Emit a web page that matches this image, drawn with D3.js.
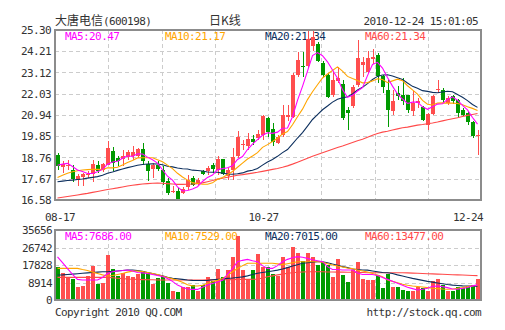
<!DOCTYPE html>
<html><head><meta charset="utf-8">
<script src="https://cdn.jsdelivr.net/npm/d3@7"></script>
<style>html,body{margin:0;padding:0;background:#fff;} svg{display:block;}</style>
</head><body><svg id="c" width="505" height="330"></svg>
<script>
// ---------- data ----------
const stockName = "大唐电信";
const stockCode = "(600198)";
const chartTitle = "日K线";
const timestamp = "2010-12-24 15:01:05";
const xLabels = ["08-17", "10-27", "12-24"];
const xLabelIndex = [0, 42, 84];
const priceTicks = ["25.30","24.21","23.12","22.03","20.94","19.85","18.76","17.67","16.58"];
const volumeTicks = ["35656","26742","17828","8914","0"];
const maLegend = ["MA5:20.47","MA10:21.17","MA20:21.34","MA60:21.34"];
const volLegend = ["MA5:7686.00","MA10:7529.00","MA20:7015.00","MA60:13477.00"];

const open = [18.89,18.25,18.30,18.12,17.62,17.74,17.86,17.93,18.38,18.14,
18.40,19.10,18.74,18.70,18.77,18.82,18.82,19.20,18.43,18.17,
18.39,18.14,17.54,16.97,17.06,16.94,17.23,17.71,17.40,18.05,
18.08,18.39,18.14,18.68,17.79,18.14,18.85,19.38,19.35,19.71,
19.74,19.91,20.77,20.20,19.52,19.91,20.85,20.85,22.99,23.47,
23.44,24.50,24.58,23.59,22.99,21.95,22.68,22.53,21.20,21.40,
22.48,23.48,23.17,23.80,24.02,22.92,22.24,21.16,22.07,21.98,
21.98,21.13,21.55,21.35,20.44,20.99,22.22,22.24,21.55,21.90,
21.73,21.21,21.04,20.56,19.84];
const high = [18.97,18.60,18.62,18.36,17.90,17.98,18.05,18.65,18.56,18.48,
19.60,19.32,18.82,19.16,19.16,19.33,19.25,19.50,18.56,18.48,
18.56,18.31,17.71,17.28,17.19,17.23,17.88,17.79,17.71,18.14,
18.31,18.48,18.82,18.70,18.22,19.25,20.14,19.66,20.00,19.91,
20.17,20.94,20.85,20.51,19.91,21.45,21.45,23.08,24.19,24.19,
25.25,25.30,24.70,23.70,23.08,23.15,23.42,22.73,21.37,22.48,
24.79,23.90,24.20,24.35,24.10,23.01,22.75,22.24,22.41,22.84,
21.99,22.15,21.81,21.39,21.04,21.98,22.72,22.32,21.90,21.98,
21.78,21.30,21.13,20.61,20.19];
const low = [18.10,17.95,18.10,17.48,17.30,17.28,17.72,17.50,17.98,18.00,
18.36,18.06,18.31,18.31,18.65,18.65,18.73,18.39,17.57,17.71,
18.05,17.37,16.85,16.94,16.55,16.89,17.11,17.28,17.37,17.88,
17.88,17.96,17.88,17.88,17.62,17.62,18.73,19.14,19.14,19.40,
19.66,19.66,19.83,19.35,19.45,19.83,20.62,20.77,22.91,22.91,
23.35,24.20,23.65,22.90,21.79,21.84,22.56,20.68,20.15,21.28,
22.39,22.90,23.09,23.55,22.60,22.07,20.32,20.96,21.73,21.47,
21.04,20.87,21.30,20.65,20.19,20.96,22.07,21.55,21.47,21.50,
20.82,20.87,20.44,19.76,18.90];
const close = [18.32,18.45,18.38,17.65,17.82,17.90,17.93,18.42,18.06,18.42,
19.25,18.50,18.60,18.85,19.04,19.04,19.20,18.56,18.05,18.36,
18.17,17.50,16.94,17.03,16.60,17.14,17.62,17.33,17.62,17.93,
18.22,18.19,18.70,17.91,18.14,18.77,19.79,19.43,19.71,19.54,
19.95,20.89,20.08,19.54,19.83,20.94,20.94,22.99,23.76,23.43,
24.85,24.93,23.71,22.99,21.88,22.75,22.82,20.77,21.03,22.39,
23.84,23.67,23.85,23.92,22.94,22.36,21.21,21.67,21.90,21.67,
21.21,21.56,21.67,20.70,20.99,21.90,22.26,21.73,21.81,21.67,
21.04,20.92,20.56,19.88,19.93];

const ma5 = [18.36,18.42,18.46,18.30,18.12,18.04,17.94,17.94,18.03,18.15,
18.42,18.53,18.57,18.72,18.85,18.81,18.95,18.94,18.78,18.64,
18.47,18.13,17.80,17.60,17.25,17.04,17.07,17.14,17.26,17.53,
17.74,17.86,18.13,18.19,18.23,18.34,18.66,18.81,19.17,19.45,
19.68,19.90,20.03,20.00,20.06,20.26,20.27,20.85,21.69,22.41,
23.19,23.99,24.14,23.98,23.67,23.25,22.83,22.24,21.85,21.95,
22.17,22.34,22.96,23.53,23.64,23.35,22.86,22.42,22.02,21.76,
21.53,21.60,21.60,21.36,21.23,21.36,21.50,21.52,21.74,21.87,
21.70,21.43,21.20,20.81,20.47];
const ma10 = [17.74,17.85,17.95,18.03,18.08,18.12,18.14,18.16,18.15,18.14,
18.23,18.23,18.26,18.38,18.50,18.61,18.74,18.75,18.75,18.75,
18.64,18.54,18.37,18.19,17.95,17.76,17.60,17.47,17.43,17.39,
17.39,17.46,17.64,17.73,17.88,18.04,18.26,18.47,18.68,18.84,
19.01,19.28,19.42,19.58,19.75,19.97,20.09,20.44,20.85,21.24,
21.73,22.13,22.49,22.84,23.04,23.22,23.41,23.19,22.92,22.81,
22.71,22.59,22.60,22.69,22.80,22.76,22.60,22.69,22.78,22.70,
22.44,22.23,22.01,21.69,21.49,21.45,21.55,21.56,21.55,21.55,
21.53,21.47,21.36,21.28,21.17];
const ma20 = [17.52,17.55,17.58,17.60,17.63,17.66,17.70,17.74,17.78,17.85,
17.95,18.02,18.10,18.17,18.24,18.30,18.36,18.40,18.43,18.44,
18.43,18.39,18.31,18.28,18.22,18.18,18.17,18.11,18.09,18.07,
18.02,18.00,18.00,17.96,17.91,17.90,17.93,17.97,18.06,18.11,
18.20,18.37,18.53,18.66,18.82,19.01,19.17,19.46,19.76,20.04,
20.37,20.71,20.96,21.21,21.40,21.60,21.75,21.82,21.88,22.02,
22.22,22.36,22.55,22.76,22.92,22.99,23.00,22.94,22.85,22.76,
22.58,22.41,22.31,22.19,22.15,22.10,22.08,22.12,22.16,22.13,
21.99,21.85,21.68,21.48,21.33];
const ma60 = [16.68,16.72,16.76,16.80,16.84,16.88,16.92,16.97,17.02,17.07,
17.12,17.16,17.20,17.25,17.30,17.34,17.37,17.40,17.42,17.44,
17.45,17.44,17.42,17.40,17.38,17.38,17.39,17.40,17.42,17.46,
17.52,17.58,17.65,17.70,17.75,17.80,17.85,17.88,17.92,17.96,
18.00,18.05,18.10,18.15,18.20,18.26,18.33,18.42,18.52,18.62,
18.72,18.82,18.91,19.00,19.09,19.18,19.27,19.35,19.44,19.53,
19.62,19.70,19.80,19.90,19.99,20.06,20.11,20.17,20.23,20.29,
20.32,20.37,20.42,20.45,20.49,20.53,20.58,20.64,20.70,20.75,
20.80,20.86,20.92,20.97,21.02];

const volume = [16980,13900,11550,10700,6450,7130,12230,17320,8150,8830,
22920,15790,12230,13900,12230,11550,13240,14770,13900,8150,
11040,12230,8490,4500,4200,6500,6800,7600,4800,7600,
11550,9850,15790,11550,15280,22070,32600,15280,10530,15280,
23430,16980,17000,13000,12000,22000,17000,27000,24000,20000,
24000,22000,18000,19500,17830,11550,20890,12735,9340,15280,
19500,10700,10190,10190,12735,6280,13000,6450,6790,5000,
4500,4750,6450,5940,4750,9670,10500,7400,4500,4800,
6540,5980,7100,7840,10840];
const vma5 = [22000,19000,16000,13000,10500,10200,10200,10200,10200,11500,
13500,14400,14800,15000,15300,14800,14000,13800,13500,13000,
12500,12000,11000,9500,7600,6500,5600,5400,5400,6500,
7600,8400,9200,10000,13000,16000,19500,20200,20700,20000,
19500,17500,16100,16100,17500,19500,20700,21500,22100,21800,
21200,20500,20000,19500,17000,15500,15500,15300,15300,15300,
13800,13000,13000,13000,12500,11500,10500,9500,8500,7500,
6500,5800,5100,5500,6000,7000,7100,6800,6300,5600,
5500,5900,6400,7200,7686];
const vma10 = [16100,16100,16100,16100,16100,15500,15000,14200,13500,12800,
12200,12500,13000,13500,14200,14700,14700,14500,14000,13500,
13000,12200,11500,10800,10000,9000,7800,7200,7100,7500,
8500,9300,10000,11000,12500,14400,16000,17500,18700,18700,
18700,18700,18700,18700,18400,18000,18500,19000,19500,19500,
19500,19500,19500,19300,18500,17800,17300,16800,16300,16000,
15300,14800,14300,13500,12700,11800,10200,9500,8800,8000,
7500,7100,6900,6600,6300,6000,5800,5600,5500,5600,
6000,6300,6800,7200,7529];
const vma20 = [12700,12800,13000,13200,13400,13600,13800,14000,14200,14400,
14400,14600,14800,15000,15300,15300,15000,14600,14000,13500,
12800,12300,11600,11000,10800,10500,10200,10000,9900,9900,
10000,10300,10500,10700,11000,11200,11500,11800,12300,13000,
13600,14000,14400,14800,15200,15800,16500,17300,18000,18700,
19000,19300,19500,19500,19000,18300,17700,17000,16500,15800,
15500,15300,15200,14800,14400,14000,13900,13500,12800,12200,
11600,11000,10500,10000,9500,9100,8700,8300,7900,7600,
7400,7200,7100,7050,7015];
const vma60 = [11500,11500,11500,11500,11500,11500,11500,11500,11500,11500,
11500,11300,11100,10900,10700,10600,10500,10400,10300,10300,
10200,10200,10200,10200,10200,10200,10200,10200,10200,10200,
10250,10250,10300,10300,10350,10400,10450,10500,10500,10550,
10600,11200,11800,12300,12800,13200,13600,13900,14100,14300,
14400,14400,14400,14400,14300,14300,14200,14200,14100,14100,
14000,14000,13900,13900,13900,13900,13900,13900,13900,13900,
13800,13700,13600,13500,13400,13300,13200,13100,13000,12900,
12800,12700,12600,12500,12400];

// ---------- style ----------
const RED = "#ff4e4e", GREEN = "#009a00";
const maColors = ["#ff00ff", "#ffa500", "#0c2f5e", "#ff4a4a"];
const TXT = "#333";
const FONT = "'DejaVu Sans Mono', 'Liberation Mono', monospace";

const svg = d3.select("#c");
const L = 55, R = 481, PT = 30, PB = 200, VT = 230, VB = 300;

const n = close.length;
const x = d3.scaleBand().domain(d3.range(n)).range([L, L + 5 * n]).paddingInner(0.2).paddingOuter(0.1);
const xc = i => x(i) + x.bandwidth() / 2;
const pMin = +priceTicks[priceTicks.length - 1], pMax = +priceTicks[0];
const y = d3.scaleLinear().domain([pMin, pMax]).range([PB, PT]);
const vMax = +volumeTicks[0];
const vy = d3.scaleLinear().domain([0, vMax]).range([VB, VT]);

function txt(g, s, xx, yy, anchor, color, size) {
  return g.append("text").attr("x", xx).attr("y", yy).attr("text-anchor", anchor || "start")
    .attr("fill", color || TXT).attr("font-family", FONT).attr("font-size", size || 11)
    .attr("letter-spacing", "-0.6px").text(s);
}

// ---------- header ----------
const hdr = svg.append("text").attr("x", L).attr("y", 25).attr("fill", TXT);
hdr.append("tspan").attr("font-family", "'Noto Sans CJK SC'").attr("font-size", 12).text(stockName);
hdr.append("tspan").attr("font-family", FONT).attr("font-size", 11).attr("letter-spacing", "-0.6px").text(stockCode);
svg.append("text").attr("x", 225).attr("y", 25).attr("text-anchor", "middle").attr("fill", TXT)
  .attr("font-family", "'Noto Sans CJK SC'").attr("font-size", 12).text(chartTitle);
txt(svg, timestamp, 478, 25, "end");

// ---------- grids ----------
const grid = svg.append("g").attr("stroke", "#cccccc").attr("stroke-width", 1).attr("stroke-dasharray", "4,3")
  .attr("shape-rendering", "crispEdges");
const vLines = d3.range(1, 8).map(i => L + (R - L) * i / 8);
priceTicks.slice(1, -1).forEach(t => {
  const yy = Math.round(y(+t)) + 0.5;
  grid.append("line").attr("x1", L).attr("x2", R).attr("y1", yy).attr("y2", yy);
});
volumeTicks.slice(1, -1).forEach(t => {
  const yy = Math.round(vy(+t)) + 0.5;
  grid.append("line").attr("x1", L).attr("x2", R).attr("y1", yy).attr("y2", yy);
});
vLines.forEach(v => {
  const xx = Math.round(v) + 0.5;
  grid.append("line").attr("x1", xx).attr("x2", xx).attr("y1", PT).attr("y2", PB);
  grid.append("line").attr("x1", xx).attr("x2", xx).attr("y1", VT).attr("y2", VB);
});

// ---------- axis labels ----------
priceTicks.forEach(t => txt(svg, t, 51, y(+t) + 4, "end"));
volumeTicks.forEach(t => txt(svg, t, 52, vy(+t) + 4, "end"));

xLabelIndex.forEach((k, i) => {
  let anchor = "middle", xx = xc(k) - 4;
  if (i === 0) { anchor = "start"; xx = xc(k) - 12.5; }
  if (i === xLabelIndex.length - 1) { anchor = "end"; xx = xc(k) + 5.5; }
  txt(svg, xLabels[i], xx, 221, anchor);
});

// ---------- legends ----------
maLegend.forEach((s, i) => txt(svg, s, 65 + 100 * i, 40, "start", maColors[i]));
volLegend.forEach((s, i) => txt(svg, s, 65 + 100 * i, 240, "start", maColors[i]));

// ---------- candles ----------
const cg = svg.append("g").attr("shape-rendering", "crispEdges");
d3.range(n).forEach(i => {
  const up = close[i] >= open[i];
  const col = up ? RED : GREEN;
  cg.append("rect").attr("x", Math.round(xc(i))).attr("width", 1)
    .attr("y", y(high[i])).attr("height", Math.max(1, y(low[i]) - y(high[i]))).attr("fill", col);
  const top = y(Math.max(open[i], close[i])), bot = y(Math.min(open[i], close[i]));
  cg.append("rect").attr("x", x(i)).attr("width", x.bandwidth())
    .attr("y", top).attr("height", Math.max(1, bot - top)).attr("fill", col);
});

// ---------- volume bars ----------
const vg = svg.append("g").attr("shape-rendering", "crispEdges");
d3.range(n).forEach(i => {
  const up = close[i] >= open[i];
  vg.append("rect").attr("x", x(i)).attr("width", x.bandwidth())
    .attr("y", vy(volume[i])).attr("height", VB - vy(volume[i])).attr("fill", up ? RED : GREEN);
});

// ---------- MA lines ----------
const line = d3.line().x((d, i) => xc(i)).y(d => y(d));
const vline = d3.line().x((d, i) => xc(i)).y(d => vy(d));
[ma60, ma20, ma10, ma5].forEach((arr, j) => {
  svg.append("path").attr("d", line(arr)).attr("fill", "none").attr("stroke", maColors[3 - j]).attr("stroke-width", 1.1);
});
[vma60, vma20, vma10, vma5].forEach((arr, j) => {
  svg.append("path").attr("d", vline(arr)).attr("fill", "none").attr("stroke", maColors[3 - j]).attr("stroke-width", 1.1);
});

// ---------- frames ----------
svg.append("rect").attr("x", L).attr("y", PT).attr("width", R - L).attr("height", PB - PT)
  .attr("fill", "none").attr("stroke", "#8c8c8c").attr("stroke-width", 2);
svg.append("rect").attr("x", L).attr("y", VT).attr("width", R - L).attr("height", VB - VT)
  .attr("fill", "none").attr("stroke", "#8c8c8c").attr("stroke-width", 2);

// ---------- footer ----------
txt(svg, "Copyright 2010 QQ.COM", L, 316, "start");
txt(svg, "http://stock.qq.com", 481, 316, "end");
</script></body></html>
